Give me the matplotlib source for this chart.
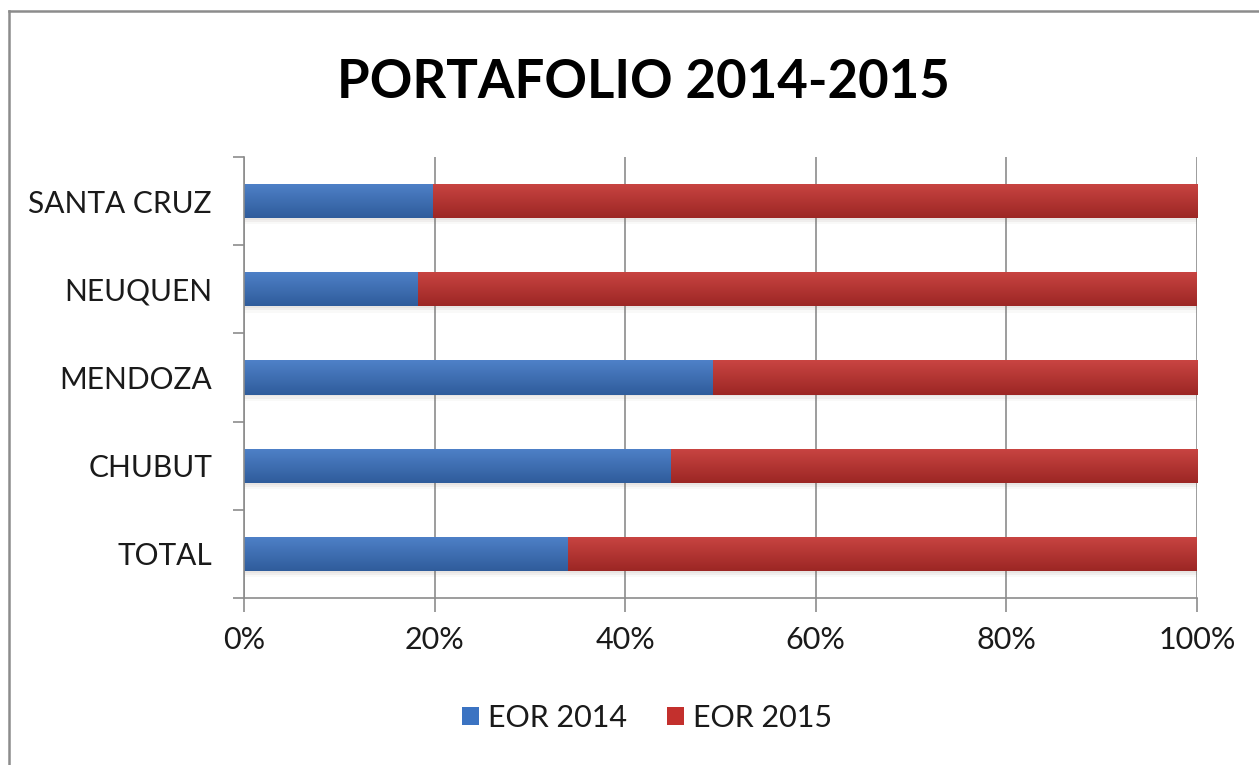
import numpy as np
import matplotlib
matplotlib.use("Agg")
import matplotlib.pyplot as plt
import matplotlib.colors as mcolors
from matplotlib.patches import Rectangle, Patch
from matplotlib.lines import Line2D

plt.rcParams['font.family'] = ['Lato', 'DejaVu Sans']

# portfolio share per province (percent)
provinces = ['TOTAL', 'CHUBUT', 'MENDOZA', 'NEUQUEN', 'SANTA CRUZ']
eor_2014 = [34.0, 44.8, 49.2, 18.3, 19.8]
eor_2015 = [66.0, 55.2, 50.8, 81.7, 80.2]
series_names = ['EOR 2014', 'EOR 2015']
series_colors = ['#3b73c2', '#c3302d']
x_ticks = [0, 20, 40, 60, 80, 100]


def shade(hex_color, factor):
    rgb = np.array(mcolors.to_rgb(hex_color))
    if factor >= 1:
        rgb = rgb + (1 - rgb) * (factor - 1)
    else:
        rgb = rgb * factor
    return np.clip(rgb, 0, 1)


def gradient_bar(ax, left, y, width, height, color):
    # vertical gradient: light at top edge, darker at bottom
    top = shade(color, 1.10)
    bottom = shade(color, 0.80)
    t = np.linspace(0, 1, 64)[:, None]
    img = (top[None, :] * (1 - t) + bottom[None, :] * t)[:, None, :]
    rect = Rectangle((left, y - height / 2), width, height,
                     facecolor='none', edgecolor='none', zorder=3)
    ax.add_patch(rect)
    im = ax.imshow(img, extent=(left, left + width, y - height / 2, y + height / 2),
                   origin='upper', aspect='auto', interpolation='bilinear', zorder=3)
    im.set_clip_path(rect)


fig = plt.figure(figsize=(12.59, 7.65), dpi=100)
fig.patch.set_facecolor('white')

# chart frame (left and top edges only, the rest runs off the canvas)
fx, fy = 8.5 / 1259, 1 - 10.5 / 765
fig.add_artist(Line2D([fx, fx], [0, fy], transform=fig.transFigure,
                      color='#8c8c8c', linewidth=1.8))
fig.add_artist(Line2D([fx, 1], [fy, fy], transform=fig.transFigure,
                      color='#8c8c8c', linewidth=1.8))

ax = fig.add_axes([244 / 1259, 1 - 598 / 765, 953 / 1259, 441 / 765])
ypos = np.arange(len(provinces))
bar_h = 0.39

for i, y in enumerate(ypos):
    left = 0
    for vals, color in zip([eor_2014, eor_2015], series_colors):
        # soft drop shadow under each segment
        for k, a in enumerate([0.10, 0.07, 0.04]):
            ax.add_patch(Rectangle((left, y - bar_h / 2 - 0.02 - 0.025 * k), vals[i], 0.05,
                                   facecolor='#7a6a5a', alpha=a, edgecolor='none', zorder=2))
        gradient_bar(ax, left, y, vals[i], bar_h, color)
        left += vals[i]

ax.set_xlim(0, 100)
ax.set_ylim(-0.5, len(provinces) - 0.5)
ax.set_xticks(x_ticks)
ax.set_xticklabels([f'{v}%' for v in x_ticks])
ax.set_yticks(ypos)
ax.set_yticklabels(provinces)
ax.set_yticks(np.arange(-0.5, len(provinces)), minor=True)
ax.tick_params(axis='y', which='major', length=0, pad=23, labelsize=21.5, labelcolor='#1a1a1a')
ax.tick_params(axis='y', which='minor', length=8, width=1.2, color='#8c8c8c', direction='out')
ax.tick_params(axis='x', length=10, width=1.2, color='#8c8c8c', direction='out',
               pad=10, labelsize=22, labelcolor='#1a1a1a')

ax.grid(axis='x', color='#8c8c8c', linewidth=1.2, zorder=1)
ax.set_axisbelow(True)
for side in ['top', 'right']:
    ax.spines[side].set_visible(False)
for side in ['left', 'bottom']:
    ax.spines[side].set_color('#8c8c8c')
    ax.spines[side].set_linewidth(1.2)
    ax.spines[side].set_zorder(4)

fig.text(0.511, 1 - 83 / 765, 'PORTAFOLIO 2014-2015', ha='center', va='center',
         fontsize=38, fontweight='bold', color='black')

handles = [Patch(facecolor=c, edgecolor='none') for c in series_colors]
fig.legend(handles, series_names, loc='center', bbox_to_anchor=(0.514, 1 - 718 / 765),
           ncol=2, frameon=False, fontsize=22, handlelength=0.55, handleheight=0.55,
           handletextpad=0.3, columnspacing=1.3, labelcolor='#1a1a1a')

fig.savefig('out.png', dpi=100, facecolor='white')
